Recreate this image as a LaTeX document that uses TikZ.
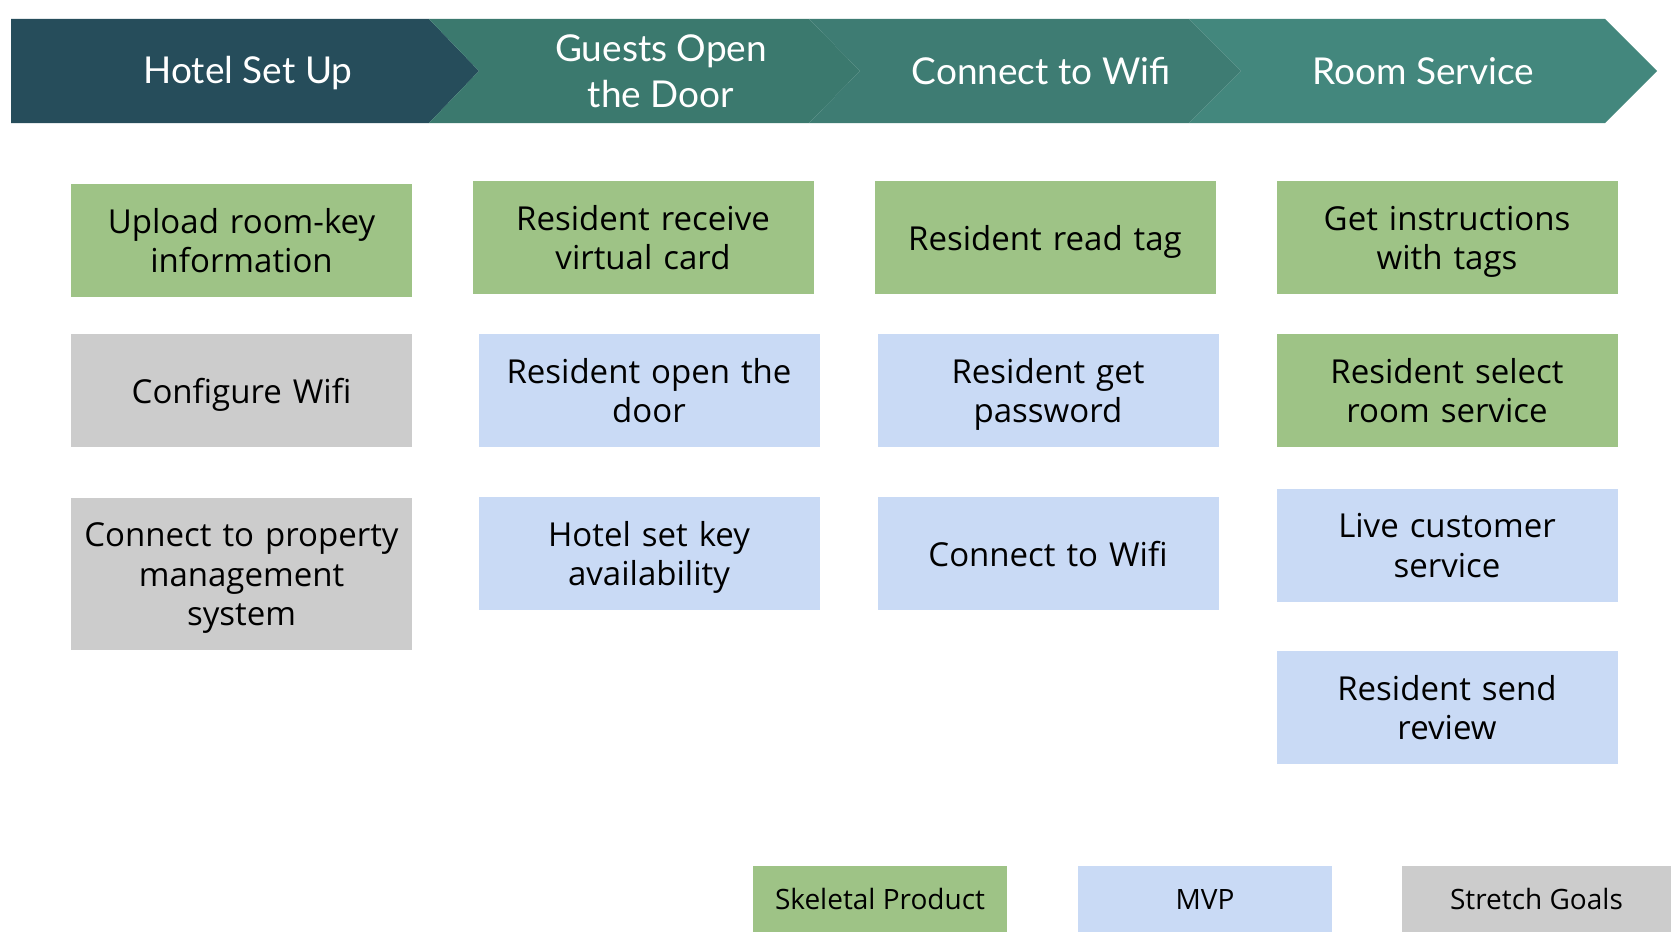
\documentclass[tikz,border=0pt]{standalone}
\usepackage{fontspec}
\setmainfont{Open Sans}
\newfontfamily\headfont{Lato}
\definecolor{hdA}{HTML}{264D5B}
\definecolor{hdB}{HTML}{3B796E}
\definecolor{hdC}{HTML}{3E7C73}
\definecolor{hdD}{HTML}{43877D}
\definecolor{skel}{HTML}{9EC386}
\definecolor{mvp}{HTML}{C9DAF5}
\definecolor{stretch}{HTML}{CCCCCC}
\begin{document}
\begin{tikzpicture}[x=1pt,y=-1pt,
  card/.style={minimum width=341pt,minimum height=113pt,inner sep=0pt,
    text width=341pt,align=center,
    font=\fontsize{33}{39.5}\selectfont,text=black,
    execute at begin node={\rule{0pt}{33pt}},
    execute at end node={\rule[-8pt]{0pt}{8pt}}},
  legendbox/.style={minimum width=254pt,minimum height=66pt,inner sep=0pt,align=center,
    font=\fontsize{28}{30}\selectfont,text=black},
  headtext/.style={text=white,align=center,font=\headfont\fontsize{37}{46}\selectfont}]
\useasboundingbox (0,0) rectangle (1680,942);
\fill[white] (0,0) rectangle (1680,942);
% header chevrons
\fill[hdA] (11,19) -- (429,19) -- (479,71) -- (429,123) -- (11,123) -- cycle;
\fill[hdB] (429,19) -- (809,19) -- (860,71) -- (809,123) -- (429,123) -- (479,71) -- cycle;
\fill[hdC] (809,19) -- (1189,19) -- (1241,71) -- (1189,123) -- (809,123) -- (860,71) -- cycle;
\fill[hdD] (1189,19) -- (1605,19) -- (1657,71) -- (1605,123) -- (1189,123) -- (1241,71) -- cycle;
\node[headtext] (h1) at (248,73) {Hotel Set Up};
\node[headtext] (h2) at (661,71) {Guests Open\\the Door};
\node[headtext] (h3) at (1041,71) {Connect to Wifi};
\node[headtext] (h4) at (1423,71) {Room Service};
% column 1
\node[card,fill=skel] (a1) at (241.5,240.5) {Upload room-key\\information};
\node[card,fill=stretch] (a2) at (241.5,390.5) {Configure Wifi};
\node[card,fill=stretch,minimum height=152pt] (a3) at (241.5,573.5) {Connect to property\\management\\system};
% column 2
\node[card,fill=skel] (b1) at (643,237.5) {Resident receive\\virtual card};
\node[card,fill=mvp] (b2) at (649,390.5) {Resident open the\\door};
\node[card,fill=mvp] (b3) at (649,553.5) {Hotel set key\\availability};
% column 3
\node[card,fill=skel] (c1) at (1045,237.5) {Resident read tag};
\node[card,fill=mvp] (c2) at (1048,390.5) {Resident get\\password};
\node[card,fill=mvp] (c3) at (1048,553.5) {Connect to Wifi};
% column 4
\node[card,fill=skel] (d1) at (1447,237.5) {Get instructions\\with tags};
\node[card,fill=skel] (d2) at (1447,390.5) {Resident select\\room service};
\node[card,fill=mvp] (d3) at (1447,545) {Live customer\\service};
\node[card,fill=mvp] (d4) at (1447,707.5) {Resident send\\review};
% legend
\node[legendbox,fill=skel] (l1) at (880,899) {Skeletal Product};
\node[legendbox,fill=mvp] (l2) at (1205,899) {MVP};
\node[legendbox,fill=stretch,minimum width=269pt] (l3) at (1536.5,899) {Stretch Goals};
\end{tikzpicture}
\end{document}
